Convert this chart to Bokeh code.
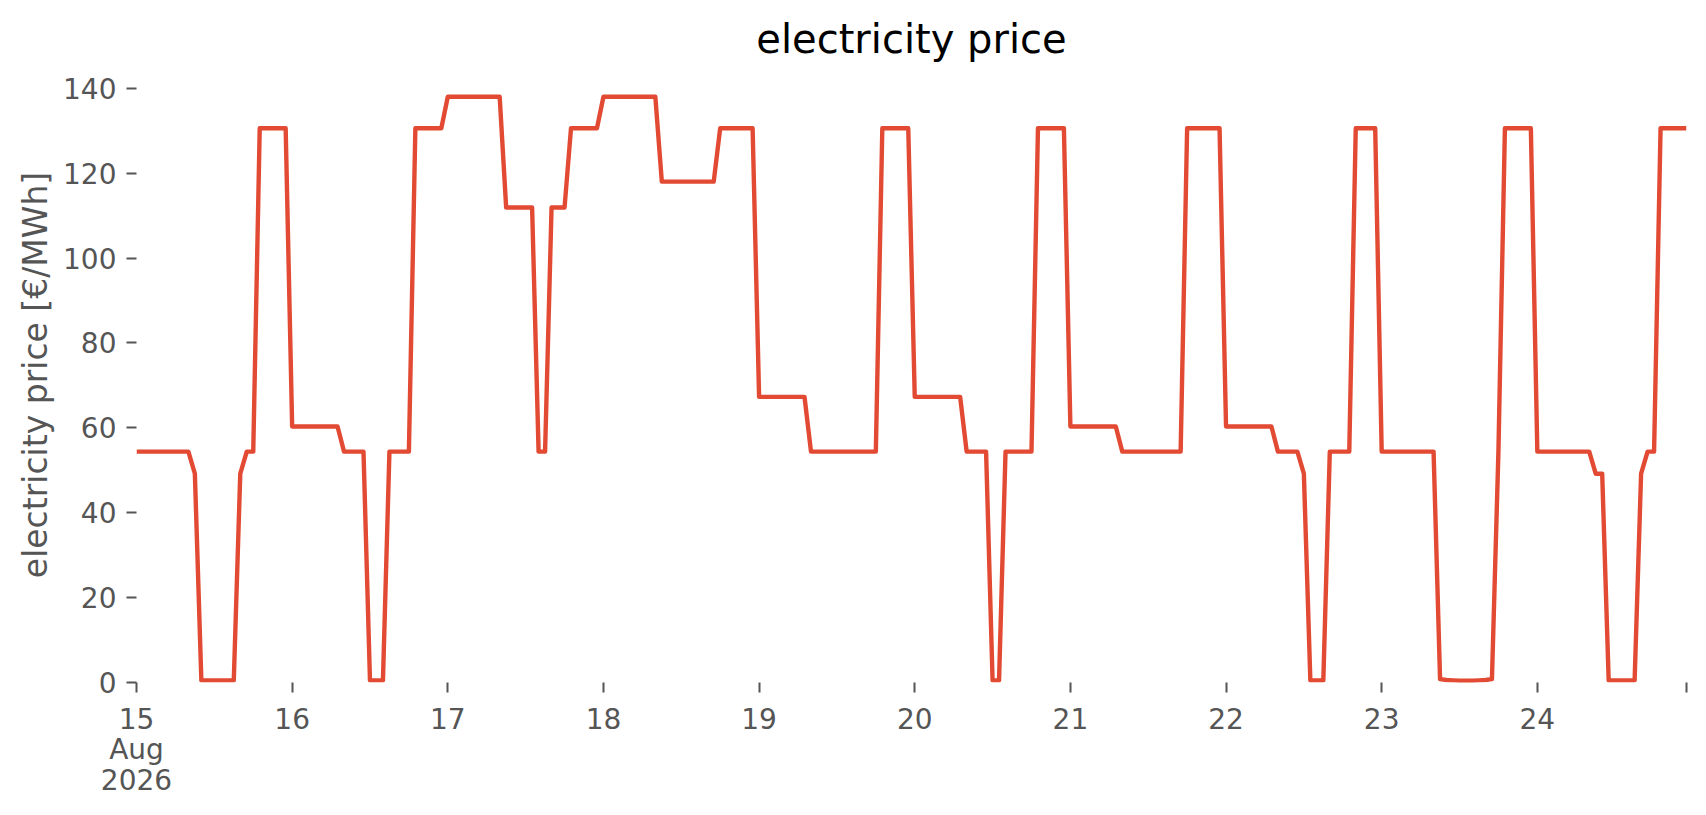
import pandas as pd
from bokeh.plotting import figure
from bokeh.models import ColumnDataSource, FixedTicker, Range1d
from bokeh.embed import file_html
from bokeh.resources import INLINE

# hourly electricity price [EUR/MWh], 15 Aug 2026 00:00 .. 24 Aug 2026 23:00
day_15 = [54.4, 54.4, 54.4, 54.4, 54.4, 54.4, 54.4, 54.4, 54.4, 49.2, 0.5, 0.5,
          0.5, 0.5, 0.5, 0.5, 49.2, 54.4, 54.4, 130.6, 130.6, 130.6, 130.6, 130.6]
day_16 = [60.3, 60.3, 60.3, 60.3, 60.3, 60.3, 60.3, 60.3, 54.4, 54.4, 54.4, 54.4,
          0.5, 0.5, 0.5, 54.4, 54.4, 54.4, 54.4, 130.6, 130.6, 130.6, 130.6, 130.6]
day_17 = [138.0, 138.0, 138.0, 138.0, 138.0, 138.0, 138.0, 138.0, 138.0, 111.9, 111.9, 111.9,
          111.9, 111.9, 54.4, 54.4, 111.9, 111.9, 111.9, 130.6, 130.6, 130.6, 130.6, 130.6]
day_18 = [138.0, 138.0, 138.0, 138.0, 138.0, 138.0, 138.0, 138.0, 138.0, 118.0, 118.0, 118.0,
          118.0, 118.0, 118.0, 118.0, 118.0, 118.0, 130.6, 130.6, 130.6, 130.6, 130.6, 130.6]
day_19 = [67.3, 67.3, 67.3, 67.3, 67.3, 67.3, 67.3, 67.3, 54.4, 54.4, 54.4, 54.4,
          54.4, 54.4, 54.4, 54.4, 54.4, 54.4, 54.4, 130.6, 130.6, 130.6, 130.6, 130.6]
day_20 = [67.3, 67.3, 67.3, 67.3, 67.3, 67.3, 67.3, 67.3, 54.4, 54.4, 54.4, 54.4,
          0.5, 0.5, 54.4, 54.4, 54.4, 54.4, 54.4, 130.6, 130.6, 130.6, 130.6, 130.6]
day_21 = [60.3, 60.3, 60.3, 60.3, 60.3, 60.3, 60.3, 60.3, 54.4, 54.4, 54.4, 54.4,
          54.4, 54.4, 54.4, 54.4, 54.4, 54.4, 130.6, 130.6, 130.6, 130.6, 130.6, 130.6]
day_22 = [60.3, 60.3, 60.3, 60.3, 60.3, 60.3, 60.3, 60.3, 54.4, 54.4, 54.4, 54.4,
          49.2, 0.5, 0.5, 0.5, 54.4, 54.4, 54.4, 54.4, 130.6, 130.6, 130.6, 130.6]
day_23 = [54.4, 54.4, 54.4, 54.4, 54.4, 54.4, 54.4, 54.4, 54.4, 0.8, 0.6, 0.5,
          0.4, 0.4, 0.4, 0.5, 0.6, 0.8, 54.4, 130.6, 130.6, 130.6, 130.6, 130.6]
day_24 = [54.4, 54.4, 54.4, 54.4, 54.4, 54.4, 54.4, 54.4, 54.4, 49.2, 49.2, 0.5,
          0.5, 0.5, 0.5, 0.5, 49.2, 54.4, 54.4, 130.6, 130.6, 130.6, 130.6, 130.6]

day_labels = ["15\nAug\n2026", "16", "17", "18", "19", "20", "21", "22", "23", "24"]
y_ticks = [0, 20, 40, 60, 80, 100, 120, 140]

price = day_15 + day_16 + day_17 + day_18 + day_19 + day_20 + day_21 + day_22 + day_23 + day_24
times = pd.date_range("2026-08-15 00:00", periods=len(price), freq="h")
source = ColumnDataSource(data=dict(time=times, price=price))

GREY = "#555555"
FONT = "DejaVu Sans"

p = figure(width=1690, height=799, x_axis_type="datetime",
           output_backend="svg", toolbar_location=None,
           x_range=Range1d(times[0], times[-1]), y_range=Range1d(0, 144.9),
           min_border_left=136, min_border_right=4, min_border_top=67, min_border_bottom=115)

p.line("time", "price", source=source, line_color="#E24A33", line_width=4.4, line_join="round")

p.title.text = "electricity price"
p.title.align = "center"
p.title.text_font = FONT
p.title.text_font_size = "40px"
p.title.text_font_style = "normal"
p.title.text_color = "#000000"
p.title.standoff = 12

p.background_fill_color = "white"
p.border_fill_color = "white"
p.outline_line_color = None
p.grid.visible = False

day_ms = [t.value / 1e6 for t in pd.date_range("2026-08-15", periods=len(day_labels), freq="D")]
end_ms = times[-1].value / 1e6
p.xaxis.ticker = FixedTicker(ticks=day_ms, minor_ticks=[end_ms])
p.xaxis.major_label_overrides = {ms: lab for ms, lab in zip(day_ms, day_labels)}
p.yaxis.ticker = FixedTicker(ticks=y_ticks)
p.yaxis.axis_label = "electricity price [€/MWh]"

for ax in (p.xaxis, p.yaxis):
    ax.axis_line_color = None
    ax.major_tick_line_color = GREY
    ax.major_tick_line_width = 2
    ax.major_tick_out = 10
    ax.major_tick_in = 0
    ax.major_label_text_font = FONT
    ax.major_label_text_font_size = "28px"
    ax.major_label_text_color = GREY
    ax.major_label_standoff = 10
    ax.axis_label_text_font = FONT
    ax.axis_label_text_font_size = "33px"
    ax.axis_label_text_font_style = "normal"
    ax.axis_label_text_color = GREY

p.xaxis.major_label_text_line_height = 0.93
p.yaxis.axis_label_standoff = 5

p.xaxis.minor_tick_line_color = GREY
p.xaxis.minor_tick_line_width = 2
p.xaxis.minor_tick_out = 10
p.xaxis.minor_tick_in = 0
p.yaxis.minor_tick_line_color = None

open("out.html", "w").write(file_html(p, INLINE))
